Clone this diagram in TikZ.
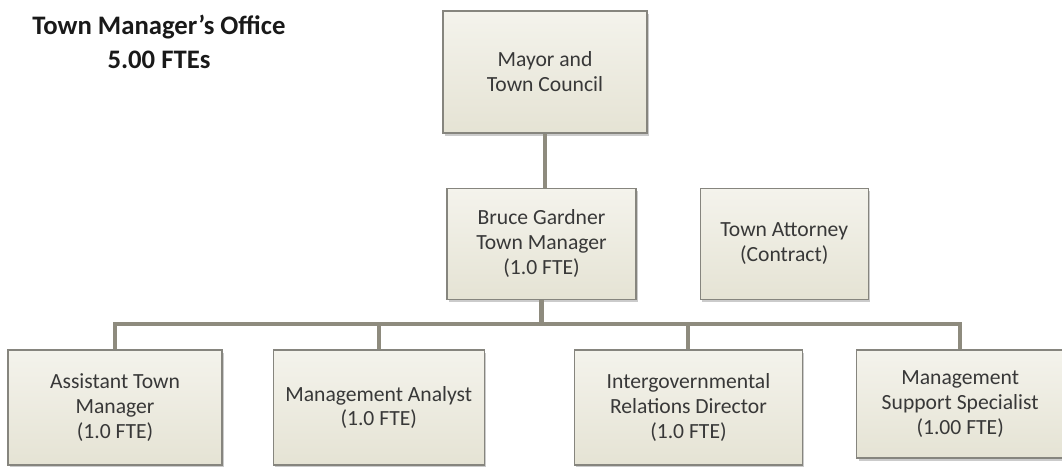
\documentclass[tikz,border=0pt]{standalone}
\usepackage{fontspec}
\setmainfont{Carlito}
\usetikzlibrary{positioning,shadows}
\definecolor{tmcream}{HTML}{F4F3EC}
\definecolor{tmsand}{HTML}{E5E3D4}
\definecolor{tmedge}{HTML}{86857E}
\definecolor{tmlink}{HTML}{8E8B7E}
\definecolor{tmtext}{HTML}{383838}

\begin{document}
\begin{tikzpicture}[
  node distance=10mm,
  unit/.style={draw=tmedge, line width=0.7pt, top color=tmcream, bottom color=tmsand,
               font=\fontsize{12.3}{14.2}\selectfont, align=center, text=tmtext,
               minimum height=2.30cm, inner sep=2pt,
               drop shadow={shadow xshift=0.04cm, shadow yshift=-0.05cm, fill=black!45, opacity=0.45}},
  link/.style={tmlink, line width=2.3pt},
  heading/.style={font=\fontsize{15.2}{19.3}\selectfont\bfseries, align=center, text=black!90},
]
  \useasboundingbox (0,0) rectangle (21.24,-9.32);

  %% Title
  \node[heading] (title) at (3.18,-0.84) {Town Manager’s Office\\5.00 FTEs};

  %% Council and manager
  \node[unit, minimum width=4.08cm, minimum height=2.44cm] (council) at (10.90,-1.44)
    {Mayor and\\Town Council};
  \node[unit, minimum width=3.78cm, minimum height=2.22cm, below=1.08cm of council, xshift=-0.07cm] (manager)
    {Bruce Gardner\\Town Manager\\(1.0 FTE)};
  \node[unit, minimum width=3.36cm, minimum height=2.22cm, right=1.26cm of manager] (attorney)
    {Town Attorney\\(Contract)};

  %% Staff row
  \node[unit, minimum width=4.28cm] (assistant) at (2.30,-8.15)
    {Assistant Town\\Manager\\(1.0 FTE)};
  \node[unit, minimum width=4.22cm, right=1.00cm of assistant] (analyst)
    {Management Analyst\\(1.0 FTE)};
  \node[unit, minimum width=4.56cm, right=1.78cm of analyst] (intergov)
    {Intergovernmental\\Relations Director\\(1.0 FTE)};
  \node[unit, minimum width=4.14cm, minimum height=2.16cm, anchor=north west] (support)
    at ([xshift=1.06cm]intergov.north east)
    {Management\\Support Specialist\\(1.00 FTE)};

  %% Connectors
  \coordinate (bus) at (0,-6.48);
  \draw[link] (council.south) -- (council.south |- manager.north);
  \draw[link] (manager.south) -- (manager.south |- bus);
  \draw[link] (assistant.north) -- (assistant.north |- bus) -- (support.north |- bus) -- (support.north);
  \draw[link] (analyst.north) -- (analyst.north |- bus);
  \draw[link] (intergov.north) -- (intergov.north |- bus);

\end{tikzpicture}
\end{document}
